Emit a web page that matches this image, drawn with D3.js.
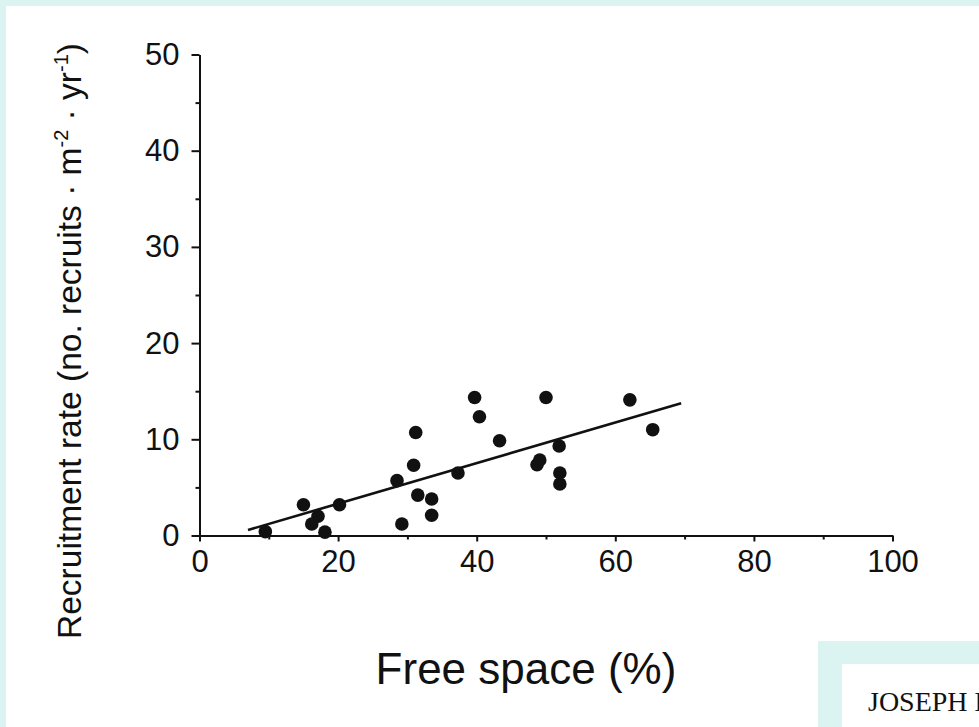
<!DOCTYPE html>
<html>
<head>
<meta charset="utf-8">
<script src="https://cdn.jsdelivr.net/npm/d3@7"></script>
<style>
  body { margin: 0; background: #dcf4f1; }
  svg { display: block; }
  .axis path, .axis line { stroke: #111; stroke-width: 2; }
  .axis text { font-family: 'Liberation Sans', Arial, sans-serif; font-size: 31px; fill: #111; }
</style>
</head>
<body>
<svg width="979" height="727"></svg>
<script>
// free space (%) and recruitment rate
var freeSpace = [9.5, 15.0, 17.1, 16.2, 18.1, 20.2, 28.5, 29.2, 31.2, 30.9, 31.5, 33.5, 33.5,
  37.3, 39.7, 40.4, 43.3, 50.0, 51.9, 49.1, 48.7, 52.0, 52.0, 62.1, 65.4];
var recruitRate = [0.4, 3.2, 2.0, 1.2, 0.35, 3.2, 5.7, 1.2, 10.7, 7.3, 4.2, 3.8, 2.1,
  6.5, 14.35, 12.35, 9.85, 14.35, 9.3, 7.85, 7.35, 6.5, 5.35, 14.1, 11.0];

// ends of the fitted line
var fitX = [7.0, 69.5];
var fitY = [0.57, 13.74];

var xTicks = [0, 20, 40, 60, 80, 100],
  xMinor = [10, 30, 50, 70, 90],
  yTicks = [0, 10, 20, 30, 40, 50],
  yMinor = [5, 15, 25, 35, 45];

var svg = d3.select('svg');

// page background: white sheet over the cyan frame
svg.append('rect').attr('x', 0).attr('y', 0).attr('width', 979).attr('height', 727).attr('fill', '#dcf4f1');
svg.append('rect').attr('x', 6).attr('y', 6).attr('width', 973).attr('height', 721).attr('fill', '#fff');
svg.append('rect').attr('x', 818).attr('y', 641).attr('width', 161).attr('height', 86).attr('fill', '#dcf4f1');
svg.append('rect').attr('x', 842).attr('y', 664).attr('width', 137).attr('height', 63).attr('fill', '#fff');
svg.append('text')
  .attr('x', 868).attr('y', 711)
  .style('font', '28px "Liberation Serif", serif')
  .attr('fill', '#111')
  .text('JOSEPH H.');

var x = d3.scaleLinear().domain([0, 100]).range([199.5, 892.5]),
  y = d3.scaleLinear().domain([0, 50]).range([535.5, 54.5]);

// minor ticks first, then the labelled axes over them
svg.append('g')
  .attr('class', 'axis')
  .attr('transform', 'translate(0,' + y(0) + ')')
  .call(d3.axisBottom(x).tickValues(xMinor).tickSize(4).tickFormat(''))
  .select('.domain').remove();

svg.append('g')
  .attr('class', 'axis')
  .attr('transform', 'translate(' + x(0) + ',0)')
  .call(d3.axisLeft(y).tickValues(yMinor).tickSize(4).tickFormat(''))
  .select('.domain').remove();

svg.append('g')
  .attr('class', 'axis axis--x')
  .attr('transform', 'translate(0,' + y(0) + ')')
  .call(d3.axisBottom(x).tickValues(xTicks).tickSize(6).tickSizeOuter(0).tickPadding(8));

svg.append('g')
  .attr('class', 'axis axis--y')
  .attr('transform', 'translate(' + x(0) + ',0)')
  .call(d3.axisLeft(y).tickValues(yTicks).tickSize(8).tickSizeOuter(0).tickPadding(12))
  .selectAll('text').attr('dy', '0.32em');

// axis titles
svg.append('text')
  .attr('x', 526).attr('y', 684)
  .attr('text-anchor', 'middle')
  .style('font', '44px "Liberation Sans", Arial, sans-serif')
  .attr('fill', '#111')
  .text('Free space (%)');

var yTitle = svg.append('text')
  .attr('transform', 'translate(81,341) rotate(-90)')
  .attr('text-anchor', 'middle')
  .style('font', '33.5px "Liberation Sans", Arial, sans-serif')
  .attr('fill', '#111');
yTitle.append('tspan').text('Recruitment rate (no. recruits \u00b7 m');
yTitle.append('tspan').attr('dy', -13).style('font-size', '20px').text('-2');
yTitle.append('tspan').attr('dy', 13).text(' \u00b7 yr');
yTitle.append('tspan').attr('dy', -13).style('font-size', '20px').text('-1');
yTitle.append('tspan').attr('dy', 13).text(')');

// fitted line
svg.append('line')
  .attr('x1', x(fitX[0])).attr('y1', y(fitY[0]))
  .attr('x2', x(fitX[1])).attr('y2', y(fitY[1]))
  .attr('stroke', '#111')
  .attr('stroke-width', 2.6);

// observations
svg.selectAll('.dot')
  .data(freeSpace)
  .enter()
  .append('circle')
  .attr('class', 'dot')
  .attr('cx', d => x(d))
  .attr('cy', (d, i) => y(recruitRate[i]))
  .attr('r', 6.8)
  .attr('fill', '#111');
</script>
</body>
</html>
